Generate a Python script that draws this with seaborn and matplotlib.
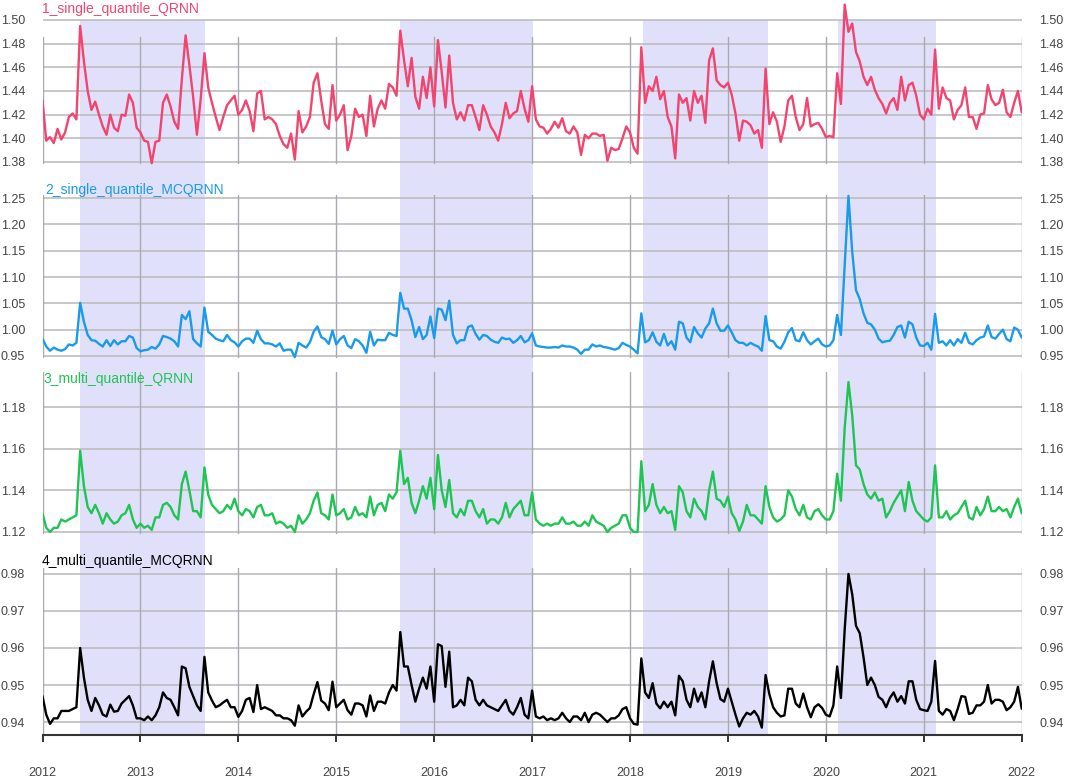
import numpy as np
import pandas as pd
import seaborn as sns
import matplotlib.pyplot as plt

# bi-weekly grid, 2012-01 .. 2022-01
years = np.linspace(2012, 2022, 261)

qrnn_single = [
    1.432, 1.398, 1.401, 1.396, 1.408, 1.399, 1.405, 1.418, 1.421, 1.416,
    1.495, 1.465, 1.440, 1.424, 1.431, 1.420, 1.410, 1.403, 1.420, 1.409,
    1.406, 1.420, 1.419, 1.437, 1.430, 1.409, 1.405, 1.398, 1.397, 1.379,
    1.397, 1.398, 1.430, 1.437, 1.427, 1.414, 1.408, 1.450, 1.487, 1.462,
    1.435, 1.403, 1.433, 1.472, 1.443, 1.430, 1.418, 1.407, 1.418, 1.428,
    1.432, 1.436, 1.420, 1.424, 1.432, 1.423, 1.406, 1.438, 1.440, 1.416,
    1.418, 1.416, 1.412, 1.402, 1.395, 1.392, 1.404, 1.382, 1.423, 1.405,
    1.410, 1.418, 1.447, 1.455, 1.432, 1.412, 1.408, 1.445, 1.415, 1.420,
    1.428, 1.390, 1.402, 1.425, 1.418, 1.420, 1.402, 1.436, 1.410, 1.425,
    1.432, 1.425, 1.446, 1.443, 1.436, 1.491, 1.466, 1.444, 1.468, 1.435,
    1.425, 1.452, 1.434, 1.460, 1.427, 1.483, 1.456, 1.426, 1.470, 1.430,
    1.416, 1.422, 1.415, 1.428, 1.428, 1.418, 1.407, 1.428, 1.420, 1.410,
    1.405, 1.398, 1.412, 1.430, 1.417, 1.421, 1.423, 1.440, 1.425, 1.414,
    1.444, 1.416, 1.410, 1.409, 1.404, 1.408, 1.414, 1.409, 1.417, 1.406,
    1.404, 1.410, 1.405, 1.386, 1.403, 1.400, 1.404, 1.404, 1.402, 1.403,
    1.381, 1.392, 1.390, 1.391, 1.400, 1.410, 1.405, 1.392, 1.387, 1.477,
    1.430, 1.444, 1.440, 1.452, 1.433, 1.440, 1.418, 1.410, 1.383, 1.437,
    1.430, 1.434, 1.415, 1.440, 1.430, 1.436, 1.413, 1.466, 1.476, 1.449,
    1.445, 1.443, 1.447, 1.437, 1.421, 1.398, 1.415, 1.414, 1.411, 1.404,
    1.407, 1.392, 1.459, 1.412, 1.422, 1.414, 1.397, 1.410, 1.432, 1.436,
    1.418, 1.407, 1.412, 1.434, 1.410, 1.412, 1.413, 1.408, 1.401, 1.402,
    1.401, 1.455, 1.429, 1.513, 1.490, 1.497, 1.473, 1.465, 1.452, 1.445,
    1.452, 1.441, 1.434, 1.429, 1.421, 1.430, 1.434, 1.424, 1.452, 1.432,
    1.445, 1.447, 1.436, 1.420, 1.416, 1.425, 1.420, 1.475, 1.425, 1.443,
    1.434, 1.432, 1.416, 1.424, 1.428, 1.443, 1.418, 1.418, 1.408, 1.420,
    1.421, 1.445, 1.433, 1.428, 1.430, 1.441, 1.422, 1.418, 1.430, 1.440,
    1.422,
]

mcqrnn_single = [
    0.983, 0.968, 0.960, 0.966, 0.962, 0.960, 0.963, 0.972, 0.970, 0.975,
    1.051, 1.015, 0.990, 0.980, 0.979, 0.973, 0.968, 0.980, 0.969, 0.980,
    0.972, 0.978, 0.978, 0.988, 0.985, 0.965, 0.959, 0.961, 0.962, 0.967,
    0.964, 0.972, 0.988, 0.986, 0.983, 0.978, 0.968, 1.028, 1.020, 1.035,
    0.982, 0.974, 0.968, 1.042, 0.996, 0.990, 0.983, 0.980, 0.978, 0.990,
    0.980, 0.976, 0.968, 0.978, 0.983, 0.983, 0.975, 0.998, 0.982, 0.974,
    0.974, 0.972, 0.968, 0.974, 0.960, 0.962, 0.962, 0.948, 0.975, 0.970,
    0.966, 0.976, 0.996, 1.006, 0.986, 0.982, 0.973, 0.998, 0.972, 0.982,
    0.988, 0.970, 0.965, 0.982, 0.978, 0.970, 0.956, 0.996, 0.970, 0.981,
    0.980, 0.980, 0.994, 0.990, 0.988, 1.070, 1.040, 1.040, 1.018, 0.986,
    1.005, 0.982, 0.990, 1.025, 0.984, 1.040, 1.038, 1.018, 1.055, 0.990,
    0.974, 0.980, 0.980, 1.005, 1.008, 0.992, 0.981, 0.990, 0.988, 0.981,
    0.977, 0.975, 0.985, 0.982, 0.983, 0.975, 0.980, 0.988, 0.976, 0.980,
    0.993, 0.970, 0.968, 0.967, 0.966, 0.966, 0.967, 0.966, 0.970, 0.968,
    0.968, 0.966, 0.962, 0.954, 0.962, 0.962, 0.972, 0.968, 0.970, 0.967,
    0.966, 0.964, 0.962, 0.965, 0.975, 0.971, 0.968, 0.962, 0.955, 1.031,
    0.976, 0.980, 0.995, 0.977, 0.970, 0.992, 0.970, 0.978, 0.962, 1.015,
    1.012, 0.985, 0.976, 1.005, 0.993, 0.985, 1.002, 1.012, 1.040, 1.012,
    0.998, 0.998, 1.008, 0.995, 0.980, 0.975, 0.975, 0.970, 0.975, 0.971,
    0.968, 0.960, 1.026, 0.980, 0.978, 0.968, 0.964, 0.977, 0.995, 1.003,
    0.980, 0.978, 0.995, 0.980, 0.972, 0.978, 0.983, 0.972, 0.968, 0.970,
    0.980, 1.028, 0.990, 1.121, 1.254, 1.148, 1.075, 1.058, 1.031, 1.013,
    1.010, 1.000, 0.983, 0.976, 0.978, 0.979, 0.990, 1.005, 1.008, 0.985,
    1.015, 1.010, 0.985, 0.970, 0.969, 0.975, 0.962, 1.030, 0.975, 0.978,
    0.970, 0.980, 0.970, 0.982, 0.975, 0.994, 0.975, 0.972, 0.980, 0.985,
    0.987, 1.008, 0.986, 0.983, 0.992, 1.000, 0.982, 0.978, 1.004, 1.000,
    0.985,
]

qrnn_multi = [
    1.129, 1.122, 1.120, 1.122, 1.122, 1.126, 1.125, 1.126, 1.127, 1.128,
    1.159, 1.142, 1.132, 1.129, 1.133, 1.129, 1.124, 1.129, 1.126, 1.124,
    1.125, 1.128, 1.129, 1.133, 1.126, 1.122, 1.124, 1.122, 1.123, 1.121,
    1.127, 1.127, 1.133, 1.134, 1.132, 1.128, 1.126, 1.143, 1.149, 1.140,
    1.130, 1.130, 1.127, 1.151, 1.138, 1.133, 1.131, 1.129, 1.130, 1.133,
    1.131, 1.136, 1.130, 1.128, 1.131, 1.130, 1.127, 1.132, 1.133, 1.128,
    1.128, 1.129, 1.124, 1.125, 1.124, 1.122, 1.123, 1.120, 1.128, 1.124,
    1.126, 1.129, 1.135, 1.139, 1.129, 1.128, 1.126, 1.138, 1.128, 1.129,
    1.131, 1.126, 1.127, 1.132, 1.128, 1.129, 1.127, 1.137, 1.128, 1.133,
    1.134, 1.130, 1.138, 1.136, 1.139, 1.159, 1.143, 1.146, 1.134, 1.129,
    1.135, 1.142, 1.136, 1.146, 1.131, 1.157, 1.140, 1.132, 1.145, 1.129,
    1.127, 1.131, 1.128, 1.135, 1.135, 1.130, 1.127, 1.131, 1.124, 1.126,
    1.126, 1.124, 1.127, 1.134, 1.127, 1.131, 1.133, 1.135, 1.128, 1.128,
    1.139, 1.126, 1.124, 1.123, 1.124, 1.123, 1.124, 1.124, 1.127, 1.124,
    1.124, 1.125, 1.123, 1.123, 1.125, 1.123, 1.128, 1.125, 1.124, 1.123,
    1.120, 1.122, 1.123, 1.124, 1.128, 1.128, 1.122, 1.120, 1.120, 1.154,
    1.130, 1.133, 1.143, 1.133, 1.129, 1.132, 1.129, 1.130, 1.121, 1.142,
    1.139, 1.130, 1.127, 1.136, 1.132, 1.130, 1.126, 1.140, 1.149, 1.136,
    1.135, 1.132, 1.137, 1.129, 1.126, 1.1205, 1.125, 1.133, 1.128, 1.128,
    1.126, 1.124, 1.142, 1.132, 1.127, 1.125, 1.126, 1.128, 1.140, 1.137,
    1.131, 1.128, 1.133, 1.127, 1.126, 1.130, 1.131, 1.128, 1.126, 1.126,
    1.130, 1.148, 1.135, 1.170, 1.192, 1.176, 1.152, 1.150, 1.143, 1.138,
    1.136, 1.139, 1.135, 1.136, 1.127, 1.130, 1.134, 1.137, 1.140, 1.130,
    1.144, 1.135, 1.130, 1.128, 1.126, 1.125, 1.127, 1.152, 1.127, 1.127,
    1.130, 1.126, 1.128, 1.129, 1.132, 1.135, 1.127, 1.126, 1.132, 1.128,
    1.131, 1.137, 1.130, 1.130, 1.132, 1.130, 1.131, 1.127, 1.132, 1.136,
    1.129,
]

mcqrnn_multi = [
    0.947, 0.942, 0.9395, 0.941, 0.941, 0.943, 0.943, 0.943, 0.9435, 0.944,
    0.960, 0.952, 0.946, 0.943, 0.9465, 0.9445, 0.942, 0.9415, 0.9447, 0.9428,
    0.943, 0.945, 0.946, 0.947, 0.9445, 0.941, 0.941, 0.9405, 0.9415, 0.9405,
    0.9418, 0.944, 0.948, 0.9465, 0.946, 0.944, 0.9418, 0.955, 0.9545, 0.9495,
    0.947, 0.9445, 0.943, 0.9576, 0.948, 0.9458, 0.944, 0.9445, 0.9453, 0.946,
    0.944, 0.944, 0.9414, 0.943, 0.946, 0.9465, 0.9427, 0.950, 0.9435, 0.944,
    0.9435, 0.943, 0.9418, 0.9418, 0.941, 0.941, 0.9405, 0.939, 0.9445, 0.9415,
    0.9428, 0.9438, 0.9475, 0.9508, 0.9458, 0.945, 0.9432, 0.9509, 0.944, 0.945,
    0.946, 0.9432, 0.942, 0.945, 0.945, 0.9445, 0.9415, 0.9472, 0.943, 0.9455,
    0.9455, 0.945, 0.948, 0.950, 0.9485, 0.9643, 0.955, 0.955, 0.950, 0.9455,
    0.949, 0.952, 0.949, 0.955, 0.9455, 0.961, 0.9605, 0.9495, 0.959, 0.944,
    0.9445, 0.946, 0.9445, 0.952, 0.951, 0.946, 0.9445, 0.946, 0.9445, 0.944,
    0.9435, 0.943, 0.9445, 0.946, 0.943, 0.942, 0.944, 0.9465, 0.942, 0.941,
    0.9485, 0.9415, 0.941, 0.9415, 0.9405, 0.941, 0.9405, 0.941, 0.9425, 0.941,
    0.940, 0.9415, 0.9415, 0.9405, 0.9425, 0.940, 0.942, 0.9425, 0.942, 0.941,
    0.940, 0.941, 0.941, 0.9418, 0.9435, 0.944, 0.941, 0.9395, 0.9393, 0.9572,
    0.948, 0.9465, 0.9505, 0.945, 0.9437, 0.9455, 0.944, 0.9455, 0.9418, 0.9525,
    0.951, 0.946, 0.944, 0.949, 0.9455, 0.948, 0.944, 0.951, 0.9564, 0.9505,
    0.9462, 0.9455, 0.949, 0.9455, 0.942, 0.9388, 0.941, 0.9425, 0.942, 0.943,
    0.9415, 0.9385, 0.9527, 0.9475, 0.944, 0.9425, 0.9415, 0.9418, 0.949, 0.949,
    0.945, 0.944, 0.9477, 0.944, 0.9413, 0.944, 0.9448, 0.9438, 0.942, 0.9415,
    0.9445, 0.955, 0.9465, 0.965, 0.980, 0.9745, 0.966, 0.964, 0.9575, 0.950,
    0.952, 0.950, 0.9468, 0.946, 0.944, 0.9465, 0.948, 0.9455, 0.947, 0.945,
    0.951, 0.951, 0.946, 0.9435, 0.9432, 0.943, 0.9455, 0.9565, 0.943, 0.942,
    0.9435, 0.943, 0.9405, 0.9435, 0.947, 0.9468, 0.9422, 0.9425, 0.9445, 0.9445,
    0.9455, 0.950, 0.945, 0.946, 0.946, 0.9455, 0.9432, 0.944, 0.9455, 0.9495,
    0.9436,
]

titles = ["1_single_quantile_QRNN", "2_single_quantile_MCQRNN",
          "3_multi_quantile_QRNN", "4_multi_quantile_MCQRNN"]
series = [qrnn_single, mcqrnn_single, qrnn_multi, mcqrnn_multi]
yticks = [
    [1.38, 1.40, 1.42, 1.44, 1.46, 1.48, 1.50],
    [0.95, 1.00, 1.05, 1.10, 1.15, 1.20, 1.25],
    [1.12, 1.14, 1.16, 1.18],
    [0.94, 0.95, 0.96, 0.97, 0.98],
]
year_ticks = list(range(2012, 2023))
# shaded periods (decimal years)
shade_start = [2012.386, 2015.652, 2018.131, 2020.123]
shade_end = [2013.657, 2017.007, 2019.407, 2021.127]

colors = ["#F2446E", "#1A9BEA", "#1EC552", "#000000"]
shade_color = "#E0E0FA"
grid_color = "#BDBDBD"
vgrid_color = "#A9A9B3"
label_color = "#444444"

sns.set_style("white")
plt.rcParams['font.family'] = ['Liberation Sans', 'DejaVu Sans']

W, H = 1065, 779
fig = plt.figure(figsize=(W / 100, H / 100), dpi=100)
X0, X1 = 42.5, 1021.7

# layout in pixels: axes top/bottom, ylim, vertical grid span, title position
layout = [
    dict(top=0, bottom=175, ylim=(1.369, 1.5169), vtop=37, vbot=163, title_xy=(42, 9)),
    dict(top=175, bottom=360, ylim=(0.9424, 1.2937), vtop=195, vbot=357, title_xy=(45, 190)),
    dict(top=360, bottom=548, ylim=(1.1123, 1.2026), vtop=372, vbot=533, title_xy=(43, 379)),
    dict(top=548, bottom=735, ylim=(0.9365, 0.9870), vtop=568, vbot=735, title_xy=(42, 561)),
]

for k, lay in enumerate(layout):
    top, bottom = lay['top'], lay['bottom']
    ax = fig.add_axes([X0 / W, 1 - bottom / H, (X1 - X0) / W, (bottom - top) / H])
    lo, hi = lay['ylim']
    ax.set_xlim(2012, 2022)
    ax.set_ylim(lo, hi)

    shade_top = 1.0
    if k == 0:
        shade_top = (max(yticks[0]) - lo) / (hi - lo)
    for s, e in zip(shade_start, shade_end):
        ax.axvspan(s, e, ymin=0, ymax=shade_top, color=shade_color, lw=0, zorder=0)

    for t in yticks[k]:
        ax.axhline(t, color=grid_color, lw=1.2, zorder=1)
    h = bottom - top
    for yr in year_ticks:
        ax.axvline(yr, ymin=(bottom - lay['vbot']) / h, ymax=(bottom - lay['vtop']) / h,
                   color=vgrid_color, lw=1.0, zorder=1)

    df = pd.DataFrame({'year': years, 'value': series[k]})
    sns.lineplot(data=df, x='year', y='value', ax=ax, color=colors[k],
                 linewidth=1.7, estimator=None, sort=False, zorder=3)

    ax.set_xlabel('')
    ax.set_ylabel('')
    ax.set_yticks(yticks[k])
    ax.set_yticklabels([f"{t:.2f}" for t in yticks[k]])
    ax.tick_params(axis='y', left=False, right=False, labelleft=True, labelright=True,
                   labelsize=9, labelcolor=label_color, pad=9)
    for sp in ax.spines.values():
        sp.set_visible(False)
    ax.patch.set_alpha(0)

    if k == 3:
        ax.spines['bottom'].set_visible(True)
        ax.spines['bottom'].set_color('#333333')
        ax.spines['bottom'].set_linewidth(1.5)
        ax.set_xticks(year_ticks)
        ax.set_xticklabels([str(y) for y in year_ticks])
        ax.tick_params(axis='x', bottom=True, length=5, width=1.4, color='#333333',
                       pad=18, labelsize=9, labelcolor=label_color)
    else:
        ax.set_xticks([])

    tx, ty = lay['title_xy']
    fig.text(tx / W, 1 - ty / H, titles[k], color=colors[k], fontsize=10,
             ha='left', va='center')

fig.savefig('out.png', dpi=100)
